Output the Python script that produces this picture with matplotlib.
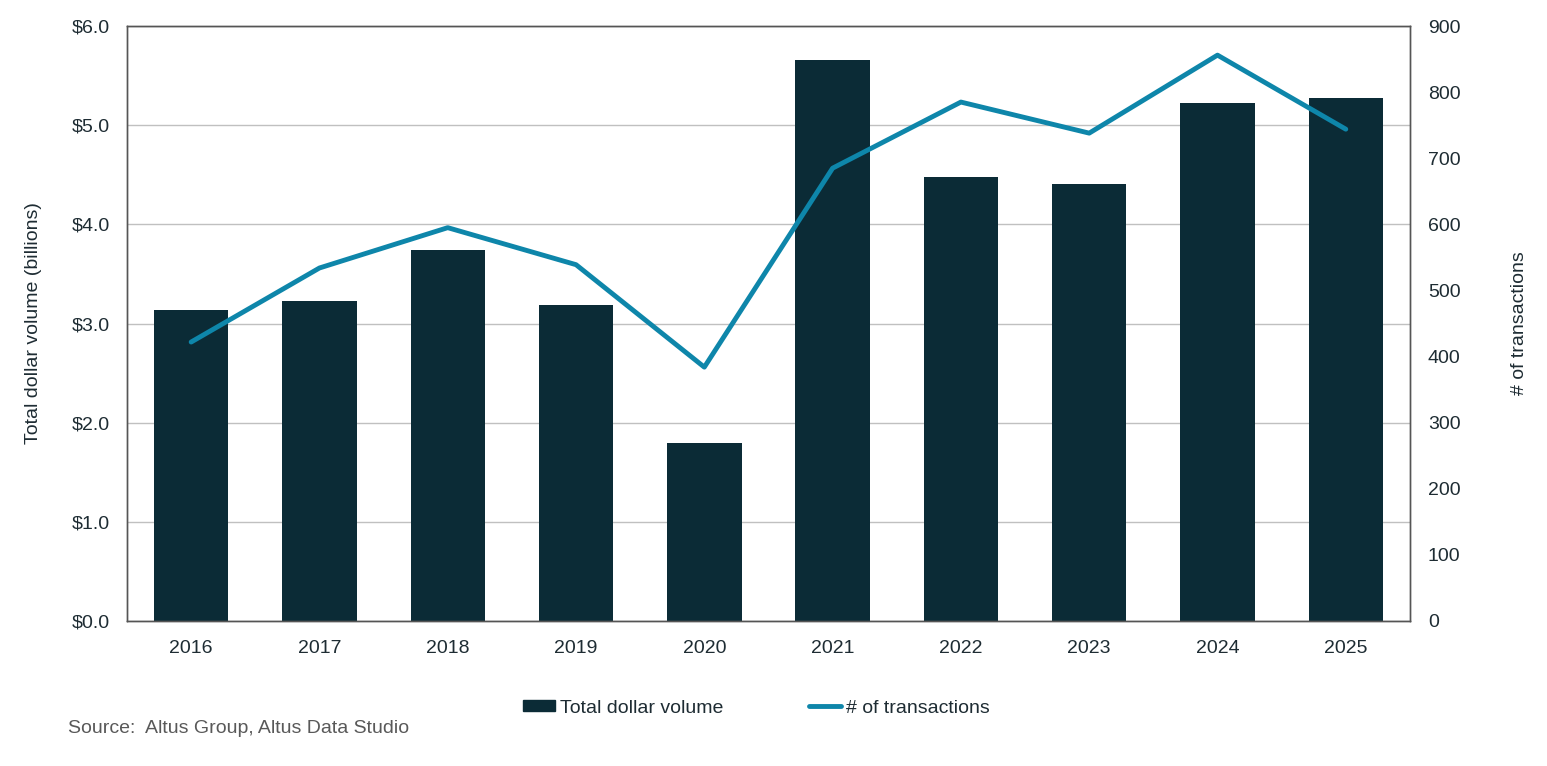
import numpy as np
import matplotlib.pyplot as plt
from matplotlib.ticker import FuncFormatter
from matplotlib.lines import Line2D
from matplotlib.patches import Patch

plt.rcParams['font.family'] = ['Liberation Sans', 'DejaVu Sans']

years = ["2016", "2017", "2018", "2019", "2020", "2021", "2022", "2023", "2024", "2025"]
volume = [3.14, 3.23, 3.74, 3.19, 1.80, 5.66, 4.48, 4.41, 5.22, 5.27]
transactions = [422, 534, 595, 539, 384, 685, 785, 738, 856, 744]

bar_color = "#0b2b36"
line_color = "#0e86aa"
text_color = "#1e2c33"

fig = plt.figure(figsize=(15.47, 7.66), dpi=100)
ax = fig.add_axes([0.0821, 0.1893, 0.8293, 0.7767])
x = np.arange(len(years))

ax.bar(x, volume, width=0.58, color=bar_color, zorder=2)
ax.set_ylim(0, 6)
ax.set_xlim(-0.5, len(years) - 0.5)
ax.set_yticks(np.arange(0, 7, 1))
ax.yaxis.set_major_formatter(FuncFormatter(lambda v, p: "${:.1f}".format(v)))
ax.set_xticks(x)
ax.set_xticklabels(years)
ax.grid(axis="y", color="#c0c0c0", linewidth=1, zorder=0)
ax.set_axisbelow(True)
ax.tick_params(length=0, labelsize=14, labelcolor=text_color, pad=12)
ax.tick_params(axis="x", pad=14)
ax.set_ylabel("Total dollar volume (billions)", fontsize=14, color=text_color, labelpad=22)
for s in ax.spines.values():
    s.set_color("#555555")
    s.set_linewidth(1)

ax2 = ax.twinx()
ax2.plot(x, transactions, color=line_color, linewidth=3.5, solid_capstyle="round", zorder=3)
ax2.set_ylim(0, 900)
ax2.set_yticks(np.arange(0, 1000, 100))
ax2.tick_params(length=0, labelsize=14, labelcolor=text_color, pad=13)
ax2.set_ylabel("# of transactions", fontsize=14, color=text_color, labelpad=36)
for s in ax2.spines.values():
    s.set_color("#555555")
    s.set_linewidth(1)

handles = [Patch(color=bar_color), Line2D([0], [0], color=line_color, linewidth=3.5, solid_capstyle="round")]
fig.legend(handles, ["Total dollar volume", "# of transactions"], loc="center",
           bbox_to_anchor=(0.489, 0.0757), ncol=2, frameon=False, fontsize=14,
           labelcolor=text_color, handlelength=1.65, handleheight=0.5,
           handletextpad=0.25, columnspacing=4.4)

fig.text(0.044, 0.049, "Source:  Altus Group, Altus Data Studio", fontsize=14, color="#595959",
         va="center")

fig.savefig("out.png", dpi=100, facecolor="white")
